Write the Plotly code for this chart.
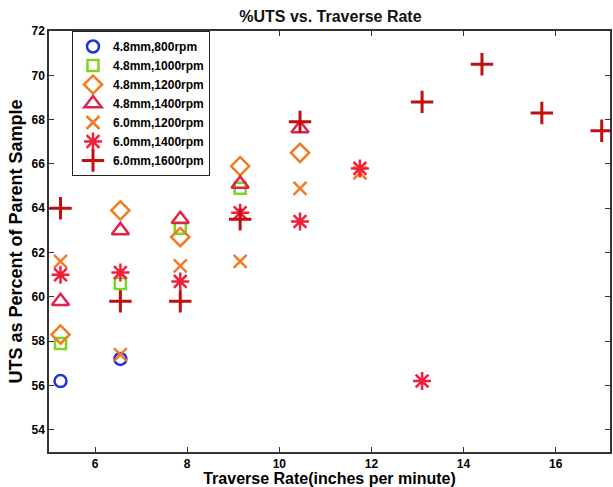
import plotly.graph_objects as go

# Data
names = ["4.8mm,800rpm", "4.8mm,1000rpm", "4.8mm,1200rpm", "4.8mm,1400rpm",
         "6.0mm,1200rpm", "6.0mm,1400rpm", "6.0mm,1600rpm"]

x_4_8_800 = [5.25, 6.55]
y_4_8_800 = [56.2, 57.2]

x_4_8_1000 = [5.25, 6.55, 7.85, 9.15]
y_4_8_1000 = [57.9, 60.6, 63.1, 64.9]

x_4_8_1200 = [5.25, 6.55, 7.85, 9.15, 10.45]
y_4_8_1200 = [58.3, 63.9, 62.7, 65.9, 66.5]

x_4_8_1400 = [5.25, 6.55, 7.85, 9.15, 10.45]
y_4_8_1400 = [59.8, 63.0, 63.5, 65.1, 67.6]

x_6_0_1200 = [5.25, 6.55, 7.85, 9.15, 10.45, 11.75]
y_6_0_1200 = [61.6, 57.4, 61.4, 61.6, 64.9, 65.6]

x_6_0_1400 = [5.25, 6.55, 7.85, 9.15, 10.45, 11.75, 13.1]
y_6_0_1400 = [61.0, 61.1, 60.7, 63.8, 63.4, 65.8, 56.2]

x_6_0_1600 = [5.25, 6.55, 7.85, 9.15, 10.45, 13.1, 14.4, 15.7, 17.0]
y_6_0_1600 = [64.0, 59.8, 59.8, 63.5, 67.9, 68.8, 70.5, 68.3, 67.5]

x_ticks = [6, 8, 10, 12, 14, 16]
y_ticks = [54, 56, 58, 60, 62, 64, 66, 68, 70, 72]

xs = [x_4_8_800, x_4_8_1000, x_4_8_1200, x_4_8_1400, x_6_0_1200, x_6_0_1400, x_6_0_1600]
ys = [y_4_8_800, y_4_8_1000, y_4_8_1200, y_4_8_1400, y_6_0_1200, y_6_0_1400, y_6_0_1600]

symbols = ["circle-open", "square-open", "diamond-open", "triangle-up-open",
           "x-thin-open", "asterisk-open", "cross-thin-open"]
colors = ["#1f2fe0", "#7fd321", "#f07b22", "#e0234b", "#f07a25", "#f21f3c", "#c00f10"]
sizes = [12, 11, 14, 15, 13, 15, 16]
widths = [2.5, 2.5, 2.5, 2.5, 2.5, 2.5, 3]

fig = go.Figure()
for n, x, y, s, c, sz, w in zip(names, xs, ys, symbols, colors, sizes, widths):
    fig.add_trace(go.Scatter(
        x=x, y=y, mode="markers", name="<b>%s</b>" % n,
        marker=dict(symbol=s, size=sz, color=c, line=dict(color=c, width=w)),
    ))

font_fam = "Liberation Sans, Arial, sans-serif"
fig.update_layout(
    width=613, height=487,
    margin=dict(l=49, r=1, t=31, b=35),
    plot_bgcolor="white", paper_bgcolor="white",
    font=dict(family=font_fam, color="black"),
    title=dict(text="<b>%UTS vs. Traverse Rate</b>", x=0.539, xanchor="center",
               y=0.966, yanchor="middle", font=dict(size=16, color="#111")),
    xaxis=dict(range=[5.0, 17.18], tickvals=x_ticks,
               ticktext=["<b>%d</b>" % v for v in x_ticks],
               ticks="inside", ticklen=5, tickwidth=1, tickcolor="#333",
               showline=True, linecolor="#333", linewidth=1.5, mirror="ticks",
               showgrid=False, zeroline=False,
               tickfont=dict(size=12),
               title=dict(text="<b>Traverse Rate(inches per minute)</b>",
                          font=dict(size=16), standoff=1)),
    yaxis=dict(range=[53.0, 72.0], tickvals=y_ticks,
               ticktext=["<b>%d</b>" % v for v in y_ticks],
               ticks="inside", ticklen=5, tickwidth=1, tickcolor="#333",
               showline=True, linecolor="#333", linewidth=1.5, mirror="ticks",
               showgrid=False, zeroline=False,
               tickfont=dict(size=12),
               title=dict(text="<b>UTS as Percent of Parent Sample</b>",
                          font=dict(size=18), standoff=4)),
    legend=dict(x=0.041, y=1.0, xanchor="left", yanchor="top",
                bgcolor="white", bordercolor="#222", borderwidth=1,
                font=dict(size=12), itemwidth=30, tracegroupgap=0),
    showlegend=True,
)

fig.write_html("out.html")
